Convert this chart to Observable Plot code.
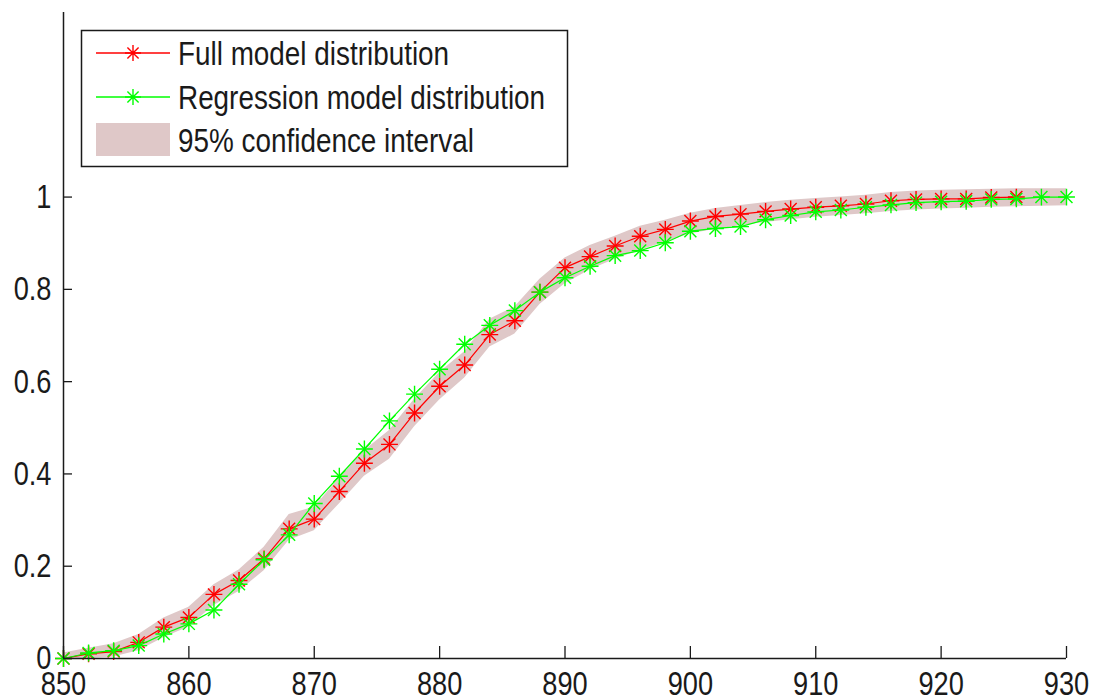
<!DOCTYPE html>
<html>
<head>
<meta charset="utf-8">
<script src="https://cdn.jsdelivr.net/npm/d3@7"></script>
<script src="https://cdn.jsdelivr.net/npm/@observablehq/plot@0.6"></script>
<style>
  html, body { margin: 0; padding: 0; background: #fff; }
  #chart { position: relative; width: 1099px; height: 697px; overflow: hidden; }
</style>
</head>
<body>
<div id="chart"></div>
<script>
// ---- data ----
const xValues = [850,852,854,856,858,860,862,864,866,868,870,872,874,876,878,880,882,884,886,888,890,
                 892,894,896,898,900,902,904,906,908,910,912,914,916,918,920,922,924,926,928,930];
const fullModel = [0,0.010,0.015,0.035,0.068,0.089,0.139,0.169,0.216,0.281,0.302,0.362,0.423,0.464,0.532,
                   0.590,0.636,0.702,0.732,0.794,0.847,0.871,0.894,0.915,0.930,0.948,0.958,0.963,0.969,
                   0.974,0.978,0.981,0.985,0.992,0.995,0.996,0.996,0.999,1.0];
const regressionModel = [0,0.012,0.017,0.028,0.053,0.075,0.105,0.161,0.214,0.268,0.336,0.395,0.454,0.515,
                   0.573,0.627,0.681,0.722,0.754,0.794,0.825,0.850,0.873,0.884,0.901,0.926,0.932,0.936,
                   0.951,0.960,0.968,0.972,0.978,0.983,0.988,0.990,0.991,0.995,0.996,1.0,1.0];
const ciLower = [0,0,0.003,0.017,0.045,0.068,0.115,0.145,0.190,0.256,0.277,0.335,0.395,0.432,0.502,0.560,
                 0.608,0.675,0.703,0.767,0.812,0.842,0.865,0.885,0.902,0.920,0.930,0.938,0.945,0.951,
                 0.956,0.960,0.964,0.969,0.972,0.974,0.976,0.978,0.979,0.980,0.981];
const ciUpper = [0.012,0.022,0.032,0.052,0.088,0.111,0.160,0.192,0.241,0.312,0.328,0.390,0.450,0.494,0.562,
                 0.620,0.665,0.735,0.762,0.822,0.868,0.895,0.915,0.937,0.950,0.965,0.975,0.982,0.988,
                 0.993,0.997,1.000,1.004,1.010,1.013,1.015,1.016,1.017,1.018,1.018,1.018];
const xTicks = [850,860,870,880,890,900,910,920,930];
const yTicks = [0,0.2,0.4,0.6,0.8,1];
const yTickLabels = ["0","0.2","0.4","0.6","0.8","1"];
const legendLabels = ["Full model distribution","Regression model distribution","95% confidence interval"];
const xDomain = [850,930];
const yDomain = [0,1.4];

// ---- tables ----
const fullData = fullModel.map((v,i)=>({x:xValues[i], y:v}));
const regData = regressionModel.map((v,i)=>({x:xValues[i], y:v}));
const band = xValues.map((x,i)=>({x, lo:ciLower[i], hi:ciUpper[i]}));

const RED = "#ff0000", GREEN = "#00ff00", BAND = "#dfc8c8", INK = "#1a1a1a";
const SQUISH = 0.8;
const W = 1099, H = 697, ML = 63, MR = 33, MT = 12, MB = 39;
const frameW = W - ML - MR, frameH = H - MT - MB;
const XTICK = 12, YTICK = 9;

const svg = Plot.plot({
  width: W,
  height: H,
  marginLeft: ML,
  marginRight: MR,
  marginTop: MT,
  marginBottom: MB,
  style: {fontFamily: "'Liberation Sans', Arial, sans-serif", background: "#fff", color: INK},
  x: {domain: xDomain},
  y: {domain: yDomain},
  marks: [
    Plot.areaY(band, {x: "x", y1: "lo", y2: "hi", fill: BAND, curve: "linear"}),
    Plot.line(fullData, {x: "x", y: "y", stroke: RED, strokeWidth: 1.2}),
    Plot.dot(fullData, {x: "x", y: "y", symbol: "plus", r: 5.5, stroke: RED, strokeWidth: 1.4}),
    Plot.dot(fullData, {x: "x", y: "y", symbol: "times", r: 5.5, stroke: RED, strokeWidth: 1.4}),
    Plot.line(regData, {x: "x", y: "y", stroke: GREEN, strokeWidth: 1.2}),
    Plot.dot(regData, {x: "x", y: "y", symbol: "plus", r: 5.5, stroke: GREEN, strokeWidth: 1.4}),
    Plot.dot(regData, {x: "x", y: "y", symbol: "times", r: 5.5, stroke: GREEN, strokeWidth: 1.4}),
    // axis lines
    Plot.ruleY([yDomain[0]], {stroke: INK, strokeWidth: 1.5}),
    Plot.ruleX([xDomain[0]], {stroke: INK, strokeWidth: 1.5}),
    // inward ticks (MATLAB style)
    Plot.ruleX(xTicks, {x: d => d, insetTop: frameH - XTICK, stroke: INK, strokeWidth: 1.3}),
    Plot.ruleY(yTicks, {y: d => d, insetRight: frameW - YTICK, stroke: INK, strokeWidth: 1.3}),
    // tick labels
    Plot.axisX({ticks: xTicks, tickFormat: d => String(d), tickSize: 0, tickPadding: 12,
                fontSize: 34, fill: INK, label: null}),
    Plot.axisY({ticks: yTicks, tickFormat: (d,i) => yTickLabels[i], tickSize: 0, tickPadding: 12,
                fontSize: 34, fill: INK, label: null})
  ]
});

// narrow glyphs like the reference
function squish(sel, s) {
  sel.each(function() {
    const t = this.getAttribute("transform");
    if (t) this.setAttribute("transform", t + ` scale(${s},1)`);
    else {
      const x = +this.getAttribute("x") || 0;
      this.setAttribute("transform", `translate(${x},0) scale(${s},1) translate(${-x},0)`);
    }
  });
}
squish(d3.select(svg).selectAll("g[aria-label$='tick label'] text"), SQUISH);

// legend (inside the plot area, top-left)
const g = d3.select(svg).append("g").attr("aria-label", "legend").attr("text-anchor", "start");
g.append("rect").attr("x", 81.5).attr("y", 30.5).attr("width", 486).attr("height", 136)
  .attr("fill", "#fff").attr("stroke", INK).attr("stroke-width", 1.5);
const rows = [
  {y: 53, kind: "line", color: RED},
  {y: 97, kind: "line", color: GREEN},
  {y: 140, kind: "band", color: BAND}
];
rows.forEach((r, i) => {
  if (r.kind === "line") {
    g.append("line").attr("x1", 96).attr("x2", 170).attr("y1", r.y).attr("y2", r.y)
      .attr("stroke", r.color).attr("stroke-width", 1.3);
    const cx = 133, L = 8;
    g.append("path")
      .attr("d", `M${cx-L},${r.y}H${cx+L}M${cx},${r.y-L}V${r.y+L}M${cx-L*0.7},${r.y-L*0.7}L${cx+L*0.7},${r.y+L*0.7}M${cx-L*0.7},${r.y+L*0.7}L${cx+L*0.7},${r.y-L*0.7}`)
      .attr("stroke", r.color).attr("stroke-width", 1.4).attr("fill", "none");
  } else {
    g.append("rect").attr("x", 96).attr("y", 123).attr("width", 74).attr("height", 33).attr("fill", r.color);
  }
  g.append("text").attr("text-anchor", "start")
    .attr("transform", `translate(178,${r.y + 12}) scale(0.82,1)`)
    .attr("font-size", 34).attr("fill", INK).text(legendLabels[i]);
});

document.getElementById("chart").appendChild(svg);
</script>
</body>
</html>
